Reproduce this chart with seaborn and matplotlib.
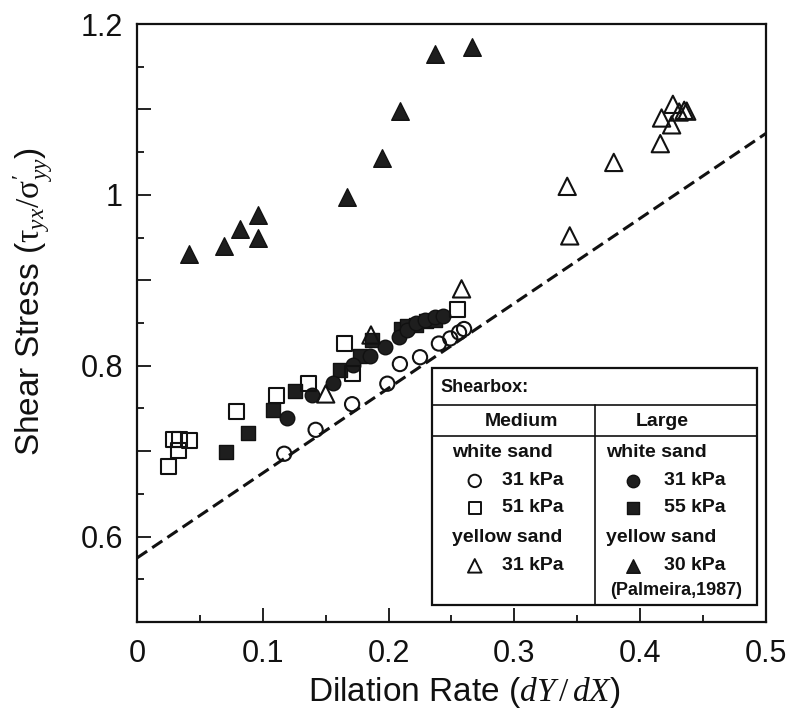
import numpy as np
import matplotlib
matplotlib.use('Agg')
import matplotlib.pyplot as plt
import seaborn as sns
from matplotlib.ticker import FixedLocator, FixedFormatter
from matplotlib.patches import Rectangle
from matplotlib.lines import Line2D

# ---------------------------
# Data
# ---------------------------
# Medium shearbox, white sand, 31 kPa (open circles)
med_w31_x = [0.117, 0.142, 0.171, 0.199, 0.209, 0.225, 0.240, 0.249, 0.256, 0.260]
med_w31_y = [0.697, 0.725, 0.755, 0.779, 0.802, 0.810, 0.826, 0.832, 0.839, 0.843]

# Medium shearbox, white sand, 51 kPa (open squares)
med_w51_x = [0.025, 0.029, 0.033, 0.034, 0.042, 0.079, 0.111, 0.136, 0.165, 0.171, 0.255]
med_w51_y = [0.682, 0.714, 0.701, 0.714, 0.712, 0.746, 0.765, 0.779, 0.826, 0.791, 0.866]

# Medium shearbox, yellow sand, 31 kPa (open triangles)
med_y31_x = [0.150, 0.186, 0.258, 0.342, 0.344, 0.379, 0.416, 0.417, 0.425, 0.426, 0.431, 0.435, 0.437]
med_y31_y = [0.767, 0.836, 0.890, 1.010, 0.952, 1.038, 1.060, 1.090, 1.082, 1.106, 1.097, 1.099, 1.098]

# Large shearbox, white sand, 31 kPa (filled circles)
lg_w31_x = [0.1195, 0.139, 0.1555, 0.172, 0.185, 0.197, 0.208, 0.215, 0.222, 0.229, 0.237, 0.2435]
lg_w31_y = [0.739, 0.766, 0.780, 0.801, 0.812, 0.822, 0.834, 0.842, 0.850, 0.853, 0.857, 0.858]

# Large shearbox, white sand, 55 kPa (filled squares)
lg_w55_x = [0.071, 0.0885, 0.108, 0.1256, 0.161, 0.177, 0.187, 0.210, 0.215, 0.222, 0.230, 0.237]
lg_w55_y = [0.699, 0.721, 0.748, 0.770, 0.795, 0.812, 0.830, 0.843, 0.846, 0.848, 0.852, 0.853]

# Large shearbox, yellow sand, 30 kPa, Palmeira 1987 (filled triangles)
lg_y30_x = [0.0416, 0.069, 0.082, 0.096, 0.096, 0.167, 0.195, 0.209, 0.237, 0.266]
lg_y30_y = [0.931, 0.940, 0.960, 0.977, 0.949, 0.997, 1.043, 1.098, 1.165, 1.173]

# dashed reference line
line_intercept = 0.575
line_slope = 0.994

# tick labels
x_ticks = [0, 0.1, 0.2, 0.3, 0.4, 0.5]
x_tick_labels = ['0', '0.1', '0.2', '0.3', '0.4', '0.5']
y_ticks = [0.5, 0.6, 0.7, 0.8, 0.9, 1.0, 1.1, 1.2]
y_tick_labels = ['', '0.6', '', '0.8', '', '1', '', '1.2']

# ---------------------------
# Style
# ---------------------------
sns.set_style('ticks')
plt.rcParams['font.family'] = ['Liberation Sans', 'DejaVu Sans']
plt.rcParams['mathtext.fontset'] = 'custom'
plt.rcParams['mathtext.rm'] = 'Liberation Serif'
plt.rcParams['mathtext.it'] = 'Liberation Serif:italic'

fig = plt.figure(figsize=(7.9, 7.15), dpi=100)
ax = fig.add_axes([0.1734, 0.130, 0.7962, 0.8364])

ink = '#111111'
fill = '#1e1e1e'

# dashed line
lx = np.array([0.0, 0.5])
sns.lineplot(x=lx, y=line_intercept + line_slope * lx, ax=ax, color=ink,
             linewidth=2.2, linestyle=(0, (4, 2)), zorder=2)

# filled markers
sns.scatterplot(x=lg_y30_x, y=lg_y30_y, ax=ax, marker='^', s=160,
                color=fill, edgecolor=ink, linewidth=1.0, zorder=3)
sns.scatterplot(x=lg_w55_x, y=lg_w55_y, ax=ax, marker='s', s=115,
                color=fill, edgecolor=ink, linewidth=1.0, zorder=3)
sns.scatterplot(x=lg_w31_x, y=lg_w31_y, ax=ax, marker='o', s=110,
                color=fill, edgecolor=ink, linewidth=1.0, zorder=3)

# open markers
sns.scatterplot(x=med_w51_x, y=med_w51_y, ax=ax, marker='s', s=115,
                facecolor='none', edgecolor=ink, linewidth=1.5, zorder=4)
sns.scatterplot(x=med_w31_x, y=med_w31_y, ax=ax, marker='o', s=105,
                facecolor='none', edgecolor=ink, linewidth=1.5, zorder=4)
sns.scatterplot(x=med_y31_x, y=med_y31_y, ax=ax, marker='^', s=155,
                facecolor='none', edgecolor=ink, linewidth=1.5, zorder=4)

# axes
ax.set_xlim(0, 0.5)
ax.set_ylim(0.5, 1.2)

ax.xaxis.set_major_locator(FixedLocator(x_ticks))
ax.xaxis.set_major_formatter(FixedFormatter(x_tick_labels))
ax.xaxis.set_minor_locator(FixedLocator([0.05, 0.15, 0.25, 0.35, 0.45]))
ax.yaxis.set_major_locator(FixedLocator(y_ticks))
ax.yaxis.set_major_formatter(FixedFormatter(y_tick_labels))
ax.yaxis.set_minor_locator(FixedLocator([0.55, 0.65, 0.75, 0.85, 0.95, 1.05, 1.15]))

ax.tick_params(which='major', direction='in', length=10, width=1.3,
               labelsize=22, color=ink, labelcolor=ink)
ax.tick_params(which='minor', direction='in', length=5, width=1.3, color=ink)
ax.tick_params(axis='x', which='major', pad=12)
ax.tick_params(axis='y', which='major', pad=10)
for sp in ax.spines.values():
    sp.set_linewidth(1.6)
    sp.set_color(ink)

ax.set_xlabel(r'Dilation Rate ($dY\,/\,dX$)', fontsize=24, color=ink)
ax.xaxis.set_label_coords(0.52, -0.088)
ax.set_ylabel(r"Shear Stress ($\mathrm{\tau}_{yx}/\mathrm{\sigma}^{\prime}_{yy}$)", fontsize=24,
              color=ink)
ax.yaxis.set_label_coords(-0.13, 0.535)

# ---------------------------
# Legend table box
# ---------------------------
tr = ax.transAxes
bx0, bx1, by0, by1 = 0.469, 0.986, 0.028, 0.425
ax.add_patch(Rectangle((bx0, by0), bx1 - bx0, by1 - by0, transform=tr,
                       facecolor='white', edgecolor=ink, linewidth=1.6, zorder=10))
for yy in [0.363, 0.311]:
    ax.add_line(Line2D([bx0, bx1], [yy, yy], transform=tr, color=ink, linewidth=1.2, zorder=11))
ax.add_line(Line2D([0.728, 0.728], [by0, 0.363], transform=tr, color=ink, linewidth=1.2, zorder=11))

fs = 14
kw = dict(transform=tr, fontsize=fs, fontweight='bold', va='center', zorder=12, color=ink)
ax.text(0.482, 0.392, 'Shearbox:', ha='left', **{**kw, 'fontsize': 13})
ax.text(0.612, 0.336, 'Medium', ha='center', **kw)
ax.text(0.835, 0.336, 'Large', ha='center', **kw)

rows_y = [0.236, 0.191, 0.094]
for col_text_x, col_mark_x, col_label_x, filled, labels in [
        (0.501, 0.537, 0.580, False, ['31 kPa', '51 kPa', '31 kPa']),
        (0.746, 0.789, 0.838, True, ['31 kPa', '55 kPa', '30 kPa'])]:
    ax.text(col_text_x, 0.284, 'white sand', ha='left', **kw)
    ax.text(col_text_x, 0.142, 'yellow sand', ha='left', **kw)
    for yy, mk, lab in zip(rows_y, ['o', 's', '^'], labels):
        ax.scatter([col_mark_x], [yy], transform=tr, marker=mk, s=80 if mk != '^' else 95,
                   facecolor=fill if filled else 'none', edgecolor=ink,
                   linewidth=1.0 if filled else 1.4, zorder=12, clip_on=False)
        ax.text(col_label_x, yy, lab, ha='left', **kw)
ax.text(0.857, 0.052, '(Palmeira,1987)', ha='center', **{**kw, 'fontsize': 13})

fig.savefig('out.png', dpi=100)
